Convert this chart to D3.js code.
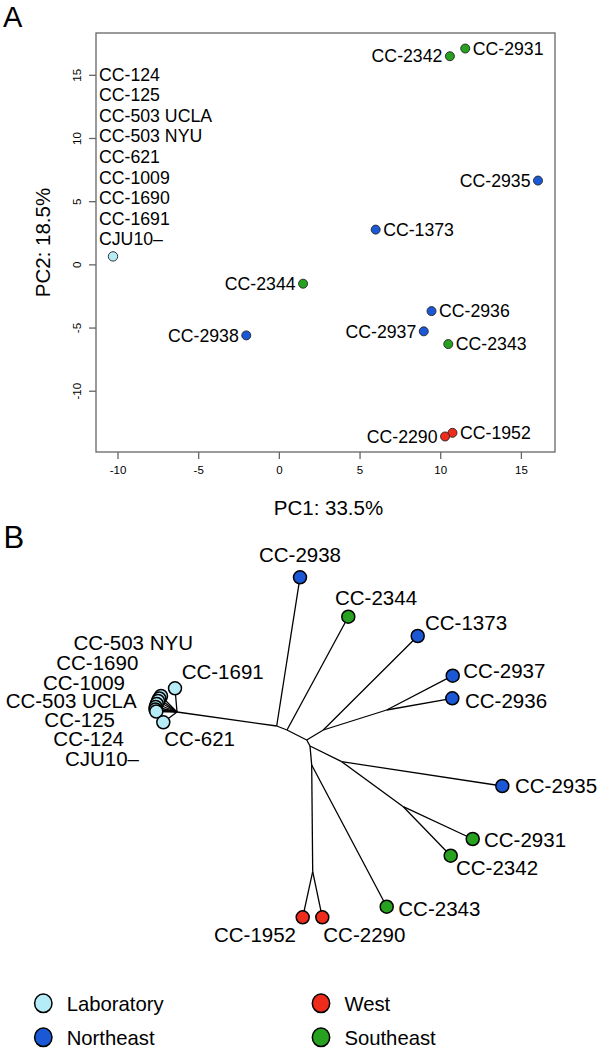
<!DOCTYPE html>
<html><head><meta charset="utf-8">
<script src="https://cdn.jsdelivr.net/npm/d3@7"></script>
<style>
body{margin:0;background:#fff}
svg{display:block}
text{font-family:"Liberation Sans",Arial,Helvetica,sans-serif;fill:#000}
</style>
</head><body>
<svg id="c" width="599" height="1050"></svg>
<script>
// ---------- shared ----------
const regions = ["Laboratory", "Northeast", "West", "Southeast"];
const regionColors = ["#b5ecf8", "#1a58d6", "#ef2b1c", "#27a11f"];

// ---------- Panel A: PCA ----------
const labStrains = ["CC-124", "CC-125", "CC-503 UCLA", "CC-503 NYU", "CC-621", "CC-1009", "CC-1690", "CC-1691", "CJU10–"];
const fieldStrains = ["CC-2342", "CC-2931", "CC-2935", "CC-1373", "CC-2344", "CC-2938", "CC-2936", "CC-2937", "CC-2343", "CC-1952", "CC-2290"];
const fieldPC1 = [10.6, 11.55, 16.06, 6.0, 1.5, -2.02, 9.46, 8.98, 10.5, 10.76, 10.3];
const fieldPC2 = [16.47, 17.08, 6.63, 2.75, -1.53, -5.62, -3.7, -5.3, -6.31, -13.33, -13.62];
const fieldRegion = [3, 3, 1, 1, 3, 1, 1, 1, 3, 2, 2];
const fieldLabelSide = ["left", "right", "left", "right", "left", "left", "right", "left", "right", "right", "left"];
const labPC1 = -10.28, labPC2 = 0.63;
const xTicks = [-10, -5, 0, 5, 10, 15];
const yTicks = [-10, -5, 0, 5, 10, 15];
const xTitle = "PC1: 33.5%", yTitle = "PC2: 18.5%";

// ---------- Panel B: unrooted tree ----------
const innerNodes = ["H", "J0a", "J0b", "J1", "J2", "J3", "J4", "J5", "J6", "J7", "J8"];
const innerX = [-12.97, -3.0, -1.97, 0, 1.66, 8.0, 0.33, 3.5, 9.66, 0.5, 0.6];
const innerY = [-2.8, -1.4, -1.0, 0, -1.0, -3.0, 0.6, 2.17, 6.67, 2.5, 13.17];
const innerParent = ["J0a", "J0b", "J1", null, "J1", "J2", "J1", "J4", "J5", "J4", "J7"];

const tipNames = ["CC-503 NYU", "CC-1690", "CC-1009", "CC-503 UCLA", "CC-125", "CC-124", "CJU10–", "CC-1691", "CC-621",
  "CC-2938", "CC-2344", "CC-1373", "CC-2937", "CC-2936", "CC-2935", "CC-2931", "CC-2342", "CC-2343", "CC-1952", "CC-2290"];
const tipX = [-14.57, -14.74, -14.87, -15.0, -15.1, -15.12, -15.04, -13.17, -14.34,
  -0.67, 4.16, 11.1, 14.6, 14.56, 19.56, 16.6, 14.4, 8.0, -0.4, 1.56];
const tipY = [-4.4, -4.15, -3.9, -3.6, -3.3, -3.05, -2.85, -5.17, -1.77,
  -16.27, -12.33, -10.4, -6.43, -4.17, 4.6, 9.9, 11.57, 16.67, 17.73, 17.73];
const tipParent = ["H", "H", "H", "H", "H", "H", "H", "H", "H",
  "J0a", "J0b", "J2", "J3", "J3", "J5", "J6", "J6", "J7", "J8", "J8"];
const tipRegion = [0, 0, 0, 0, 0, 0, 0, 0, 0, 1, 3, 1, 1, 1, 1, 3, 3, 3, 2, 2];

// label placement (layout only): anchor, dx, dy relative to tip
const tipLabelLayout = {
  "CC-503 NYU": ["end", 32, -46], "CC-1690": ["end", -21, -28.5], "CC-1009": ["end", -33, -11],
  "CC-503 UCLA": ["end", -20, 4], "CC-125": ["end", -40.7, 19.7], "CC-124": ["end", -31.5, 36.5],
  "CJU10–": ["end", -17.3, 54.5], "CC-1691": ["start", 6.7, -9], "CC-621": ["start", 1, 23.4],
  "CC-2938": ["middle", 0, -15], "CC-2344": ["start", -13.3, -11.7], "CC-1373": ["start", 7.3, -6],
  "CC-2937": ["start", 10.6, 2.3], "CC-2936": ["start", 12.7, 10], "CC-2935": ["start", 12.7, 7.3],
  "CC-2931": ["start", 11.3, 8.3], "CC-2342": ["start", 5.3, 19.3], "CC-2343": ["start", 11.6, 9.3],
  "CC-1952": ["end", -6.7, 24.7], "CC-2290": ["start", 1, 24.7]
};

const svg = d3.select("#c");

// ================= Panel A =================
svg.append("text").attr("x", 3).attr("y", 26.5).attr("font-size", 29).text("A");

const allPC1 = [labPC1, ...fieldPC1], allPC2 = [labPC2, ...fieldPC2];
function rPad(ext) { const s = ext[1] - ext[0]; return [ext[0] - 0.04 * s, ext[1] + 0.04 * s]; }
const box = {l: 96, r: 555, t: 33, b: 452};
const x = d3.scaleLinear().domain(rPad(d3.extent(allPC1))).range([box.l, box.r]);
const y = d3.scaleLinear().domain(rPad(d3.extent(allPC2))).range([box.b, box.t]);

const gA = svg.append("g");
gA.append("rect").attr("x", box.l).attr("y", box.t).attr("width", box.r - box.l).attr("height", box.b - box.t)
  .attr("fill", "none").attr("stroke", "#666").attr("stroke-width", 1.3);

const xAxis = d3.axisBottom(x).tickValues(xTicks).tickSize(7).tickPadding(8).tickFormat(d => d < 0 ? "-" + Math.abs(d) : d);
const gx = gA.append("g").attr("transform", `translate(0,${box.b})`).call(xAxis);
const yAxis = d3.axisLeft(y).tickValues(yTicks).tickSize(7).tickPadding(8).tickFormat(d => d < 0 ? "-" + Math.abs(d) : d);
const gy = gA.append("g").attr("transform", `translate(${box.l},0)`).call(yAxis);
[gx, gy].forEach(g => {
  g.select(".domain").remove();
  g.selectAll(".tick line").attr("stroke", "#666").attr("stroke-width", 1.3);
  g.selectAll(".tick text").attr("font-size", 11.5).attr("font-family", "Liberation Sans, Arial, sans-serif").attr("fill", "#000");
});
gx.selectAll(".tick text").attr("dy", "0.95em").attr("y", 11);
gy.selectAll(".tick text").attr("x", null).attr("dy", null)
  .attr("text-anchor", "middle")
  .attr("transform", "translate(-19.5,0) rotate(-90) translate(0,4)");

gA.append("text").attr("x", (box.l + box.r) / 2 + 3).attr("y", 515).attr("text-anchor", "middle")
  .attr("font-size", 20.5).text(xTitle);
gA.append("text").attr("transform", `translate(50,${(box.t + box.b) / 2}) rotate(-90)`).attr("text-anchor", "middle")
  .attr("font-size", 20.5).text(yTitle);

// lab point + stacked label list
const labLH = 20.6;
gA.append("g").selectAll("text").data(labStrains).join("text")
  .attr("x", x(labPC1) - 14)
  .attr("y", (d, i) => y(labPC2) - 11 - (labStrains.length - 1 - i) * labLH)
  .attr("font-size", 17.7).text(d => d);
gA.append("circle").attr("cx", x(labPC1)).attr("cy", y(labPC2)).attr("r", 4.7)
  .attr("fill", regionColors[0]).attr("stroke", "#333").attr("stroke-width", 1);

// field points
const field = fieldStrains.map((n, i) => ({n, px: fieldPC1[i], py: fieldPC2[i], r: fieldRegion[i], side: fieldLabelSide[i]}));
gA.append("g").selectAll("text").data(field).join("text")
  .attr("x", d => x(d.px) + (d.side === "right" ? 7.5 : -7.5))
  .attr("y", d => y(d.py)).attr("dy", "0.35em")
  .attr("text-anchor", d => d.side === "right" ? "start" : "end")
  .attr("font-size", 17.7).text(d => d.n);
gA.append("g").selectAll("circle").data(field).join("circle")
  .attr("cx", d => x(d.px)).attr("cy", d => y(d.py)).attr("r", 4.5)
  .attr("fill", d => regionColors[d.r]).attr("stroke", "#222").attr("stroke-width", 0.9);

// ================= Panel B =================
svg.append("text").attr("x", 3.5).attr("y", 547.5).attr("font-size", 31).text("B");

const nodePos = {};
innerNodes.forEach((n, i) => nodePos[n] = [innerX[i], innerY[i]]);
tipNames.forEach((n, i) => nodePos[n] = [tipX[i], tipY[i]]);
const allTX = [...innerX, ...tipX], allTY = [...innerY, ...tipY];
const tx = d3.scaleLinear().domain(d3.extent(allTX)).range([155.5, 502.3]);
const ty = d3.scaleLinear().domain(d3.extent(allTY)).range([577.3, 917.3]);

const edges = [];
innerNodes.forEach((n, i) => { if (innerParent[i]) edges.push([innerParent[i], n]); });
tipNames.forEach((n, i) => edges.push([tipParent[i], n]));

const gB = svg.append("g");
gB.append("g").selectAll("line").data(edges).join("line")
  .attr("x1", d => tx(nodePos[d[0]][0])).attr("y1", d => ty(nodePos[d[0]][1]))
  .attr("x2", d => tx(nodePos[d[1]][0])).attr("y2", d => ty(nodePos[d[1]][1]))
  .attr("stroke", "#000").attr("stroke-width", 1.3);

const tips = tipNames.map((n, i) => ({n, tx: tipX[i], ty: tipY[i], r: tipRegion[i]}));
gB.append("g").selectAll("circle").data(tips).join("circle")
  .attr("cx", d => tx(d.tx)).attr("cy", d => ty(d.ty)).attr("r", 6.5)
  .attr("fill", d => regionColors[d.r]).attr("stroke", "#000").attr("stroke-width", 1.5);
gB.append("g").selectAll("text").data(tips).join("text")
  .attr("x", d => tx(d.tx) + tipLabelLayout[d.n][1])
  .attr("y", d => ty(d.ty) + tipLabelLayout[d.n][2])
  .attr("text-anchor", d => tipLabelLayout[d.n][0])
  .attr("font-size", 20.5).text(d => d.n);

// ================= Legend =================
const legCols = [43.3, 321], legRows = [1003.3, 1037.3];
const legItems = regions.map((r, i) => ({r, i, cx: legCols[i === 2 || i === 3 ? 1 : 0], cy: legRows[i === 1 || i === 3 ? 1 : 0]}));
const gL = svg.append("g");
gL.selectAll("ellipse").data(legItems).join("ellipse")
  .attr("cx", d => d.cx).attr("cy", d => d.cy).attr("rx", 8.7).attr("ry", 9.3)
  .attr("fill", d => regionColors[d.i]).attr("stroke", "#000").attr("stroke-width", 1.5);
gL.selectAll("text").data(legItems).join("text")
  .attr("x", d => d.cx + 23.4).attr("y", d => d.cy).attr("dy", "0.36em")
  .attr("font-size", 20.3).text(d => d.r);
</script>
</body></html>
